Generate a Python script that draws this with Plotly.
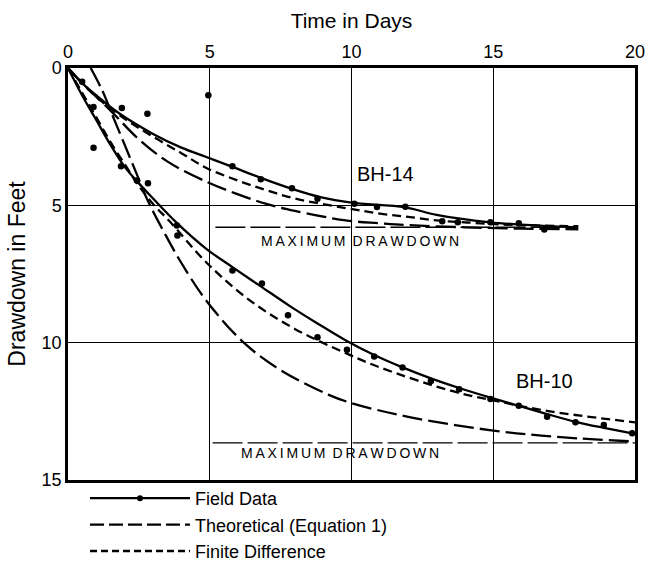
import plotly.graph_objects as go

# ---------------- data ----------------
x_ticks = [0, 5, 10, 15, 20]
y_ticks = [0, 5, 10, 15]

# BH-14
bh14_field_x = [0, 0.5, 1, 1.8, 3, 4, 4.9, 5.8, 6.8, 7.9, 8.9, 10, 11.9, 13, 14.9, 16, 17.9]
bh14_field_y = [0, 0.55, 1.0, 1.65, 2.4, 2.9, 3.25, 3.6, 4.0, 4.4, 4.7, 4.9, 5.07, 5.35, 5.62, 5.7, 5.8]
bh14_pts_x = [0.5, 0.9, 1.9, 2.8, 4.95, 5.8, 6.8, 7.9, 8.8, 10.1, 10.9, 11.9, 13.2, 13.75, 14.9, 15.9, 16.8]
bh14_pts_y = [0.5, 1.42, 1.46, 1.67, 0.99, 3.58, 4.05, 4.38, 4.76, 4.94, 5.06, 5.05, 5.58, 5.62, 5.62, 5.65, 5.88]
bh14_theo_x = [0, 0.5, 1.5, 2.5, 3.5, 4.9, 6, 7, 8, 9.8, 11, 12, 14, 16, 18]
bh14_theo_y = [0, 0.55, 1.55, 2.6, 3.4, 4.15, 4.6, 4.95, 5.2, 5.55, 5.65, 5.72, 5.8, 5.85, 5.87]
bh14_fd_x = [0, 0.5, 1, 2, 3, 4, 4.9, 6, 7, 8, 9.8, 11, 12, 13, 14, 15, 16, 18]
bh14_fd_y = [0, 0.55, 1.05, 1.85, 2.5, 3.1, 3.65, 4.1, 4.45, 4.75, 5.1, 5.3, 5.42, 5.55, 5.62, 5.68, 5.72, 5.76]
bh14_max_x = [5.2, 18]
bh14_max_y = [5.8, 5.8]

# BH-10
bh10_field_x = [0, 0.5, 1, 1.5, 2, 2.5, 3, 3.8, 4.9, 5.8, 6.8, 7.8, 8.8, 9.85, 10.8, 11.8, 12.8, 13.8, 14.9, 15.9, 16.9, 17.9, 18.9, 19.9]
bh10_field_y = [0, 1.0, 1.9, 2.8, 3.6, 4.2, 4.75, 5.6, 6.6, 7.25, 7.95, 8.65, 9.3, 9.95, 10.45, 10.9, 11.3, 11.65, 12.0, 12.3, 12.6, 12.88, 13.1, 13.3]
bh10_pts_x = [0.9, 1.87, 2.43, 2.82, 3.84, 3.86, 5.8, 6.84, 7.76, 8.8, 9.84, 10.8, 11.8, 12.8, 13.8, 14.9, 15.9, 16.9, 17.9, 18.9, 19.9]
bh10_pts_y = [2.9, 3.58, 4.1, 4.2, 5.73, 6.1, 7.37, 7.85, 9.0, 9.8, 10.26, 10.5, 10.9, 11.4, 11.7, 12.05, 12.3, 12.7, 12.9, 13.0, 13.3]
bh10_theo_x = [0.8, 1.2, 1.6, 2.0, 2.4, 2.8, 3.4, 4.0, 4.9, 6.2, 7.5, 9.2, 10, 12, 15, 17.5, 20]
bh10_theo_y = [0, 0.8, 1.8, 2.8, 3.8, 4.8, 6.0, 7.1, 8.5, 10.0, 11.0, 11.9, 12.2, 12.7, 13.2, 13.45, 13.6]
bh10_fd_x = [0, 0.5, 1, 1.5, 2, 2.5, 3, 3.6, 4.9, 6.4, 8, 9.84, 11, 13.5, 15, 17, 20]
bh10_fd_y = [0, 0.9, 1.8, 2.7, 3.5, 4.3, 4.95, 5.6, 7.1, 8.45, 9.5, 10.4, 10.9, 11.75, 12.1, 12.5, 12.9]
bh10_max_x = [5.1, 20]
bh10_max_y = [13.65, 13.65]

labels = ["BH-14", "BH-10"]
label_x = [11.2, 16.8]
label_y = [3.87, 11.4]
max_label_x = [10.3, 9.6]
max_label_y = [6.3, 14.0]

legend_names = ["Field Data", "Theoretical (Equation 1)", "Finite Difference"]

# ---------------- styles ----------------
BLACK = "black"
LW = 2.3
THEO_DASH = "20px,6px"
FD_DASH = "9px,5px"
MAX_DASH = "30px,5px"
FONT = "Liberation Sans, Arial, sans-serif"

fig = go.Figure()

for fx, fy, px_, py_ in [(bh14_field_x, bh14_field_y, bh14_pts_x, bh14_pts_y),
                         (bh10_field_x, bh10_field_y, bh10_pts_x, bh10_pts_y)]:
    fig.add_trace(go.Scatter(x=fx, y=fy, mode="lines", line=dict(color=BLACK, width=LW, shape="spline"),
                             showlegend=False, hoverinfo="skip"))
    fig.add_trace(go.Scatter(x=px_, y=py_, mode="markers", marker=dict(color=BLACK, size=6.5),
                             showlegend=False))

for tx, ty in [(bh14_theo_x, bh14_theo_y), (bh10_theo_x, bh10_theo_y)]:
    fig.add_trace(go.Scatter(x=tx, y=ty, mode="lines", line=dict(color=BLACK, width=LW, dash=THEO_DASH, shape="spline"),
                             showlegend=False))

for dx, dy in [(bh14_fd_x, bh14_fd_y), (bh10_fd_x, bh10_fd_y)]:
    fig.add_trace(go.Scatter(x=dx, y=dy, mode="lines", line=dict(color=BLACK, width=LW, dash=FD_DASH, shape="spline"),
                             showlegend=False))

for mx, my in [(bh14_max_x, bh14_max_y), (bh10_max_x, bh10_max_y)]:
    fig.add_trace(go.Scatter(x=mx, y=my, mode="lines", line=dict(color=BLACK, width=1.4, dash=MAX_DASH),
                             showlegend=False))

# legend entries
fig.add_trace(go.Scatter(x=[None], y=[None], mode="lines+markers", name=legend_names[0],
                         line=dict(color=BLACK, width=LW), marker=dict(color=BLACK, size=6), legendgroup="a"))
fig.add_trace(go.Scatter(x=[None], y=[None], mode="lines", name=legend_names[1],
                         line=dict(color=BLACK, width=LW, dash="14px,5px"), legendgroup="b"))
fig.add_trace(go.Scatter(x=[None], y=[None], mode="lines", name=legend_names[2],
                         line=dict(color=BLACK, width=LW, dash="7px,4px"), legendgroup="c"))

for t, lx, ly in zip(labels, label_x, label_y):
    fig.add_annotation(x=lx, y=ly, text=t, showarrow=False,
                       font=dict(size=20, color=BLACK, family=FONT))
max_text = "\u2009".join("MAXIMUM") + "\u2002" + "\u2009".join("DRAWDOWN")
for lx, ly in zip(max_label_x, max_label_y):
    fig.add_annotation(x=lx, y=ly, text=max_text, showarrow=False,
                       font=dict(size=14, color=BLACK, family=FONT))

fig.update_layout(
    width=652, height=567,
    margin=dict(l=68, r=17, t=68, b=87, autoexpand=False),
    paper_bgcolor="white", plot_bgcolor="white",
    font=dict(family=FONT, size=18, color=BLACK),
    showlegend=True,
    legend=dict(x=0.03, y=0.0, xanchor="left", yanchor="top", bgcolor="rgba(0,0,0,0)",
                font=dict(size=18, family=FONT), itemwidth=100, tracegroupgap=0),
    xaxis=dict(side="top", range=[0, 20], tickvals=x_ticks, showgrid=True, gridcolor=BLACK, gridwidth=1,
               showline=True, linecolor=BLACK, linewidth=2.5, mirror=True, zeroline=False, ticks="",
               automargin=False,
               title=dict(text="Time in Days", font=dict(size=21), standoff=8),
               tickfont=dict(size=18)),
    yaxis=dict(range=[15, 0], tickvals=y_ticks, showgrid=True, gridcolor=BLACK, gridwidth=1,
               showline=True, linecolor=BLACK, linewidth=2.5, mirror=True, zeroline=False, ticks="",
               automargin=False,
               title=dict(text="Drawdown in Feet", font=dict(size=23), standoff=10),
               tickfont=dict(size=18)),
)

fig.write_html("out.html", config={"displayModeBar": False},
               post_script="document.body.style.margin='0';document.body.style.overflow='hidden';")
